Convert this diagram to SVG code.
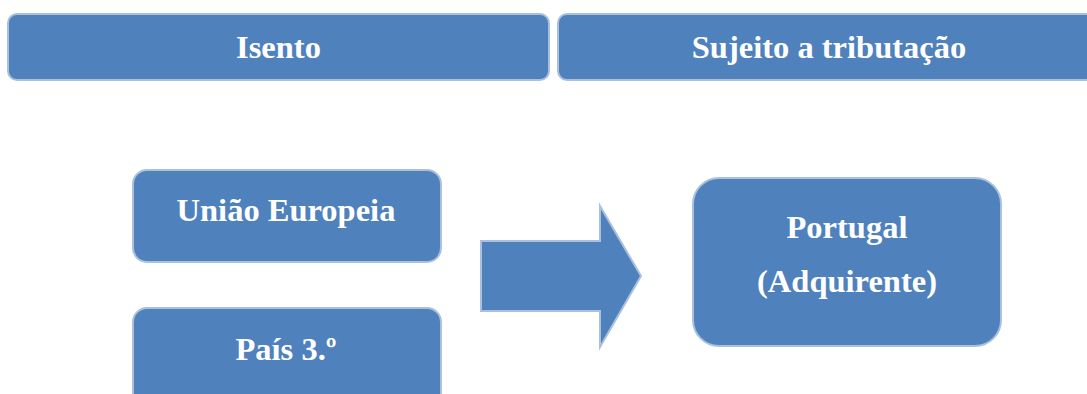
<svg xmlns="http://www.w3.org/2000/svg" width="1087" height="394" viewBox="0 0 1087 394">
<style>
.box{fill:#4F81BD;stroke:#A9C0DF;stroke-width:2}
.lbl{fill:#FFFFFF;font-family:"Liberation Serif","Times New Roman",serif;font-weight:bold;font-size:32.5px;text-anchor:middle}
</style>
<rect width="1087" height="394" fill="#FFFFFF"/>
<g id="isento">
<rect class="box" x="8" y="14" width="541" height="66" rx="9"/>
<text class="lbl" x="278.5" y="58">Isento</text>
</g>
<g id="sujeito">
<rect class="box" x="558" y="14" width="545" height="66" rx="9"/>
<text class="lbl" x="829" y="58">Sujeito a tributação</text>
</g>
<g id="ue">
<rect class="box" x="133" y="170" width="308" height="92" rx="14"/>
<text class="lbl" x="286" y="221">União Europeia</text>
</g>
<g id="pais3">
<rect class="box" x="133" y="308" width="308" height="100" rx="14"/>
<text class="lbl" x="286" y="360">País 3.º</text>
</g>
<g id="portugal">
<rect class="box" x="693" y="178" width="308" height="168" rx="26"/>
<text class="lbl" x="847" y="238">Portugal</text>
<text class="lbl" x="847" y="292">(Adquirente)</text>
</g>
<g id="connectors">
<polygon class="box" points="481,241 600,241 600,206 641,276 600,347 600,311 481,311"/>
</g>
</svg>
